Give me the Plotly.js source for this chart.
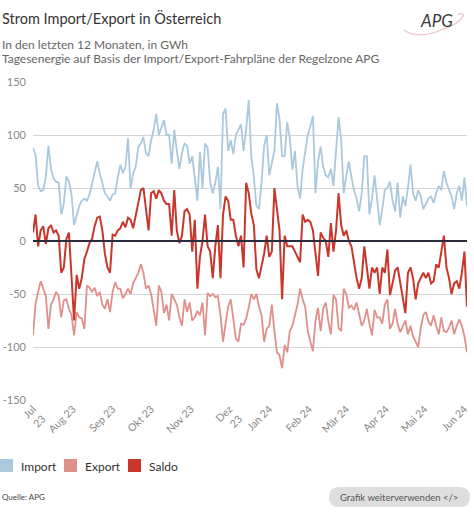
<!DOCTYPE html>
<html>
<head>
<meta charset="utf-8">
<script src="https://cdn.plot.ly/plotly-3.0.1.min.js"></script>
<style>
  html, body { margin: 0; padding: 0; background: #fff; }
  #chart { width: 474px; height: 512px; }
</style>
</head>
<body>
<div id="chart"></div>
<script>
// Daily energy balance (GWh), sampled every second day from 1 July 2023
const startDate = '2023-07-01';
const stepDays = 2;

const importVals = [
  88, 81, 52, 47, 48, 61, 90, 68, 59, 56,
  55, 25, 35, 61, 56, 44, 15, 25, 33, 38,
  40, 38, 44, 54, 64, 75, 64, 55, 45, 42,
  38, 44, 45, 60, 72, 64, 70, 97, 50, 64,
  70, 89, 92, 98, 83, 80, 95, 105, 120, 100,
  108, 114, 100, 100, 73, 105, 85, 68, 83, 92,
  90, 73, 80, 58, 38, 84, 50, 92, 88, 55,
  45, 55, 70, 30, 120, 125, 85, 95, 82, 100,
  105, 110, 85, 105, 133, 80, 60, 33, 30, 55,
  90, 100, 62, 75, 85, 130, 115, 80, 80, 112,
  97, 67, 85, 52, 40, 68, 85, 100, 108, 118,
  45, 75, 89, 70, 62, 60, 68, 52, 85, 117,
  95, 45, 62, 75, 60, 48, 40, 28, 45, 80,
  80, 25, 40, 62, 40, 15, 30, 48, 50, 56,
  38, 28, 55, 22, 42, 33, 50, 72, 45, 38,
  48, 42, 30, 35, 40, 42, 36, 45, 52, 48,
  66, 55, 48, 42, 30, 45, 52, 38, 60, 33
];

const exportVals = [
  -89, -59, -48, -38, -45, -52, -83, -60, -55, -48,
  -52, -72, -56, -55, -64, -70, -89, -67, -72, -73,
  -83, -42, -44, -48, -44, -52, -48, -60, -64, -55,
  -67, -48, -39, -45, -45, -54, -50, -45, -50, -40,
  -35, -30, -22, -30, -45, -42, -50, -65, -80, -42,
  -48, -68, -60, -75, -50, -55, -60, -72, -80, -55,
  -67, -58, -75, -72, -66, -70, -58, -89, -49, -52,
  -50, -53, -52, -70, -95, -78, -62, -55, -73, -92,
  -95, -78, -79, -73, -63, -50, -55, -50, -62, -70,
  -95, -83, -80, -60, -85, -105, -108, -120, -98, -105,
  -85, -80, -70, -60, -45, -55, -62, -85, -95, -104,
  -75, -63, -85, -64, -58, -76, -88, -51, -55, -82,
  -85, -45, -50, -63, -61, -65, -58, -68, -80, -75,
  -64, -78, -89, -65, -72, -72, -78, -60, -55, -83,
  -78, -64, -78, -86, -80, -75, -88, -80, -90, -95,
  -100, -82, -70, -67, -76, -80, -70, -80, -88, -72,
  -85, -86, -82, -75, -88, -80, -74, -80, -90, -105
];

const saldoVals = [
  8, 25, -5, 10, 14, -3, 12, 15, 8, 10,
  5, -30, -25, 2, 8, -40, -75, -32, -45, -35,
  -17, -10, -2, 2, 14, 22, 23, 10, -12, -25,
  -30, 6, 5, 10, 12, 18, 13, 22, 20, 12,
  26, 36, 48, 50, 30, 10, 45, 47, 40, 48,
  45, 38, 35, 35, 5, 48, 10, -2, 5, 28,
  30, 25, -10, 20, -45, -15, 0, 25, -5, -10,
  -35, -5, 15, -35, 25, 42, 38, 20, 20, 5,
  -5, 5, -25, 55, 45, 26, 15, -27, -35, -22,
  -12, 5, -15, -10, 50, 30, 10, -55, 5, -5,
  -5, -5, -10, -15, -20, 25, 18, 20, 18, 10,
  -15, -33, 8, 3, 0, -15, 17, -10, 10, 45,
  15, 5, 10, 0, -5, -20, -35, -45, -35, -5,
  -25, -45, -25, -30, -25, -50, -25, -30, -8, -51,
  -40, -28, -25, -40, -55, -68, -30, -25, -35, -55,
  -40, -35, -30, -35, -30, -40, -38, -22, -25, -10,
  5, -25, -35, -50, -40, -38, -45, -30, -10, -62
];

const monthTicks = ['2023-07-01', '2023-08-01', '2023-09-01', '2023-10-01', '2023-11-01', '2023-12-01',
                    '2024-01-01', '2024-02-01', '2024-03-01', '2024-04-01', '2024-05-01', '2024-06-01'];
const monthLabels = ['Jul<br>23', 'Aug 23', 'Sep 23', 'Okt 23', 'Nov 23', 'Dez<br>23',
                     'Jan 24', 'Feb 24', 'Mär 24', 'Apr 24', 'Mai 24', 'Jun 24'];
const yTicks = [-150, -100, -50, 0, 50, 100, 150];
const yLabels = ['-150', '-100', '-50', '0', '50', '100', '150'];

const seriesNames = ['Import', 'Export', 'Saldo'];
const seriesColors = ['#abc9dc', '#e0908b', '#c9372c'];

// date for every sample
const dates = importVals.map((_, i) => {
  const d = new Date(startDate + 'T00:00:00Z');
  d.setUTCDate(d.getUTCDate() + i * stepDays);
  return d.toISOString().slice(0, 10);
});

const W = 474, H = 512;
const M = { l: 33, r: 7, t: 82, b: 112 };
const PW = W - M.l - M.r, PH = H - M.t - M.b;
const px = x => (x - M.l) / PW;
const py = y => (H - M.b - y) / PH;

const FONT = 'Lato, "Open Sans", sans-serif';

const traces = [importVals, exportVals, saldoVals].map((vals, i) => ({
  type: 'scatter',
  mode: 'lines',
  x: dates,
  y: vals,
  name: seriesNames[i],
  line: { color: seriesColors[i], width: i === 2 ? 2 : 1.8 },
  hoverinfo: 'x+y+name',
  showlegend: false
}));

const annotations = [
  { text: 'Strom Import/Export in Österreich', x: px(0), y: py(18), font: { size: 14.5, color: '#333' } },
  { text: 'In den letzten 12 Monaten, in GWh', x: px(0), y: py(44), font: { size: 12, color: '#666' } },
  { text: 'Tagesenergie auf Basis der Import/Export-Fahrpläne der Regelzone APG', x: px(0), y: py(58), font: { size: 12, color: '#666' } },
  { text: 'Quelle: APG', x: px(0), y: py(497), font: { size: 8, color: '#444' } },
  { text: 'Grafik weiterverwenden &lt;/&gt;', x: px(399), y: py(497), xanchor: 'center', font: { size: 9.5, color: '#555' } },
  { text: '<i>APG</i>', x: px(436), y: py(21), xanchor: 'center', font: { size: 17, color: '#3a3a3a' } }
].map(a => Object.assign({ xref: 'paper', yref: 'paper', xanchor: 'left', yanchor: 'middle', showarrow: false }, a));

// legend: colour squares with labels
const legendPos = [0, 64, 128];
const shapes = [];
seriesNames.forEach((n, i) => {
  shapes.push({ type: 'rect', xref: 'paper', yref: 'paper', x0: px(legendPos[i]), x1: px(legendPos[i] + 13),
                y0: py(472), y1: py(459), fillcolor: seriesColors[i], line: { width: 0 } });
  annotations.push({ xref: 'paper', yref: 'paper', x: px(legendPos[i] + 19), y: py(466), xanchor: 'left', yanchor: 'middle',
                     showarrow: false, text: n, font: { size: 12, color: '#333' } });
});

// button pill
const bx0 = px(329), bx1 = px(470), by0 = py(507), by1 = py(487);
const r = 10;
const rx = r / PW, ry = r / PH;
shapes.push({
  type: 'path', xref: 'paper', yref: 'paper', fillcolor: '#dedede', line: { width: 0 },
  path: `M ${bx0 + rx} ${by0} L ${bx1 - rx} ${by0} Q ${bx1} ${by0} ${bx1} ${by0 + ry} L ${bx1} ${by1 - ry} Q ${bx1} ${by1} ${bx1 - rx} ${by1} ` +
        `L ${bx0 + rx} ${by1} Q ${bx0} ${by1} ${bx0} ${by1 - ry} L ${bx0} ${by0 + ry} Q ${bx0} ${by0} ${bx0 + rx} ${by0} Z`
});

// logo swoosh
shapes.push({
  type: 'path', xref: 'paper', yref: 'paper', line: { color: '#ecc4c8', width: 1.2 },
  path: `M ${px(404)} ${py(30)} Q ${px(420)} ${py(42)} ${px(455)} ${py(24)} Q ${px(470)} ${py(12)} ${px(458)} ${py(14)}`
});

// zero baseline
shapes.push({ type: 'line', xref: 'paper', yref: 'y', x0: 0, x1: 1, y0: 0, y1: 0,
              line: { color: '#2a2b3d', width: 2 }, layer: 'above' });

const layout = {
  width: W, height: H,
  margin: M,
  paper_bgcolor: '#fff', plot_bgcolor: '#fff',
  font: { family: FONT, color: '#333' },
  showlegend: false,
  xaxis: {
    type: 'date',
    range: [dates[0], dates[dates.length - 1]],
    tickvals: monthTicks, ticktext: monthLabels,
    tickangle: -45,
    tickfont: { size: 10.5, color: '#888' },
    showgrid: false, zeroline: false, showline: false, ticks: '',
    fixedrange: true
  },
  yaxis: {
    range: [-150, 150],
    tickvals: yTicks, ticktext: yLabels,
    tickfont: { size: 11, color: '#888' },
    gridcolor: '#d5d5d5', gridwidth: 1,
    zeroline: false, showline: false, ticks: '',
    ticklabelstandoff: 6,
    fixedrange: true
  },
  annotations: annotations,
  shapes: shapes
};

Plotly.newPlot('chart', traces, layout, { displayModeBar: false, staticPlot: true });
</script>
</body>
</html>
